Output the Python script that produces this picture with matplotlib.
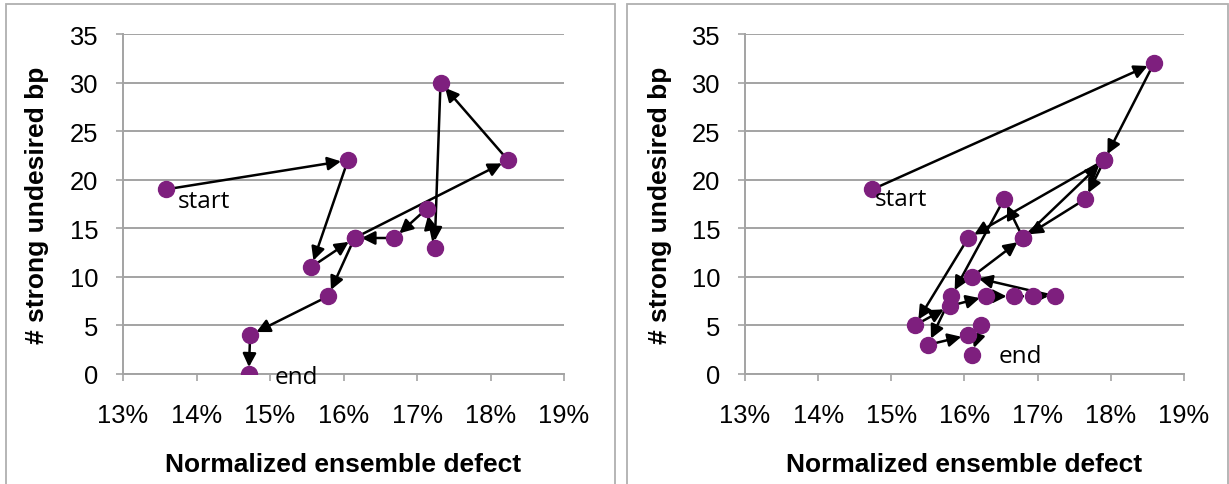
import matplotlib
matplotlib.use("Agg")
import matplotlib.pyplot as plt
from matplotlib.patches import Rectangle

plt.rcParams['font.family'] = ['Liberation Sans', 'DejaVu Sans']

# trajectory of designs, in visiting order (defect in %, # strong undesired bp)
left_defect = [13.58, 16.06, 15.56, 16.15, 18.24, 17.32, 17.24, 17.13, 16.69, 16.15, 15.79, 14.73, 14.71]
left_bp = [19, 22, 11, 14, 22, 30, 13, 17, 14, 14, 8, 4, 0]

right_defect = [14.74, 18.59, 17.91, 17.65, 16.80, 17.91, 16.05, 15.32, 15.80, 16.30, 16.67,
                16.93, 17.24, 16.10, 16.80, 16.54, 15.82, 15.50, 16.05, 16.23, 16.10]
right_bp = [19, 32, 22, 18, 14, 22, 14, 5, 7, 8, 8, 8, 8, 10, 14, 18, 8, 3, 4, 5, 2]

x_ticks = [13, 14, 15, 16, 17, 18, 19]
y_ticks = [0, 5, 10, 15, 20, 25, 30, 35]

W, H = 1229, 485
fig = plt.figure(figsize=(W / 100, H / 100), dpi=100)

purple = '#7e1f7e'
grid_c = '#a3a3a3'


def draw_panel(ax, xs, ys, start_off, end_off):
    for i in range(len(xs) - 1):
        ax.annotate('', xy=(xs[i + 1], ys[i + 1]), xytext=(xs[i], ys[i]),
                    arrowprops=dict(arrowstyle='-|>', color='black', lw=1.8,
                                    mutation_scale=20, shrinkA=0, shrinkB=5),
                    zorder=2)
    ax.plot(xs, ys, linestyle='none', marker='o', markersize=11.5,
            color=purple, zorder=3)
    ax.annotate('start', xy=(xs[0], ys[0]), xytext=start_off, textcoords='offset points',
                fontsize=17.5, family='Open Sans', va='center', ha='left')
    ax.annotate('end', xy=(xs[-1], ys[-1]), xytext=end_off, textcoords='offset points',
                fontsize=17.5, family='Open Sans', va='center', ha='left')

    ax.set_xlim(13, 19)
    ax.set_ylim(0, 35)
    ax.set_xticks(x_ticks)
    ax.set_xticklabels(['%d%%' % t for t in x_ticks])
    ax.set_yticks(y_ticks)
    ax.grid(axis='y', color=grid_c, lw=1.4)
    ax.set_axisbelow(True)
    for s in ['top', 'right']:
        ax.spines[s].set_visible(False)
    for s in ['left', 'bottom']:
        ax.spines[s].set_color(grid_c)
        ax.spines[s].set_linewidth(1.4)
    ax.tick_params(axis='x', direction='out', length=5, width=1.2, color=grid_c,
                   labelsize=18.4, pad=16)
    ax.tick_params(axis='y', direction='out', length=5, width=1.2, color=grid_c,
                   labelsize=18.4, pad=13)
    ax.set_xlabel('Normalized ensemble defect', fontsize=19, fontweight='bold', va='center')
    ax.xaxis.set_label_coords(0.5, (375 - 465) / 340)
    ax.set_ylabel('# strong undesired bp', fontsize=19, fontweight='bold', va='center')


ax1 = fig.add_axes([123 / W, 110 / H, 441 / W, 340 / H])
draw_panel(ax1, left_defect, left_bp, (9, -8), (19, -2))
ax1.yaxis.set_label_coords((37 - 123) / 441, 0.5)

ax2 = fig.add_axes([745 / W, 110 / H, 439 / W, 340 / H])
draw_panel(ax2, right_defect, right_bp, (2, -7), (19, -1))
ax2.yaxis.set_label_coords((660 - 745) / 439, 0.5)

# chart area borders
fig.add_artist(Rectangle((6 / W, -0.05), 609 / W, 1.05 - 5 / H, transform=fig.transFigure,
                         fill=False, edgecolor='#b0b0b0', lw=1.3))
fig.add_artist(Rectangle((627 / W, -0.05), 601 / W, 1.05 - 5 / H, transform=fig.transFigure,
                         fill=False, edgecolor='#b0b0b0', lw=1.3))

fig.savefig('out.png', dpi=100)
